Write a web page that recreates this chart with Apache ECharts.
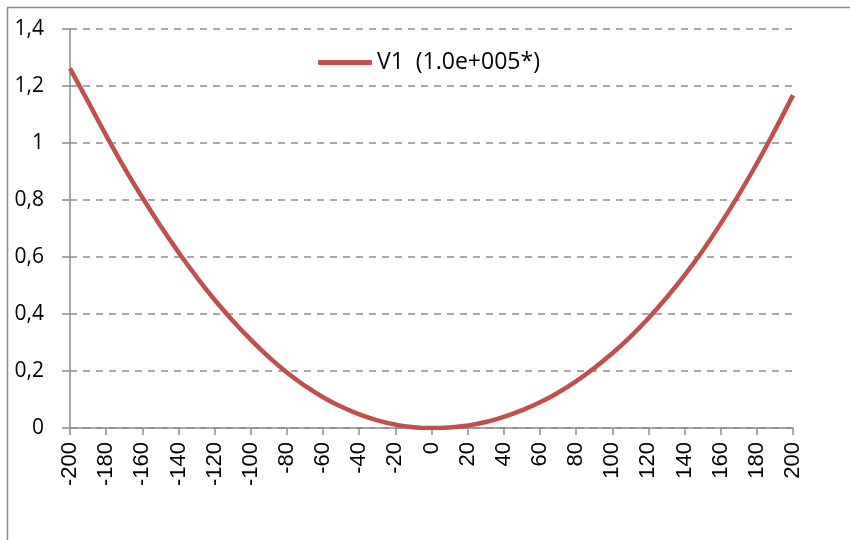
<!DOCTYPE html>
<html>
<head>
<meta charset="utf-8">
<script src="https://cdn.jsdelivr.net/npm/echarts@6/dist/echarts.min.js"></script>
<style>html,body{margin:0;padding:0;background:#fff;}#c{width:850px;height:540px;}</style>
</head>
<body>
<div id="c"></div>
<script>
const seriesName = 'V1  (1.0e+005*)';
const xValues = [-200,-190,-180,-170,-160,-150,-140,-130,-120,-110,-100,-90,-80,-70,-60,-50,-40,-30,-20,-10,0,10,20,30,40,50,60,70,80,90,100,110,120,130,140,150,160,170,180,190,200];
const yValues = [1.262,1.145,1.027,0.914,0.809,0.710,0.617,0.530,0.450,0.377,0.310,0.249,0.195,0.148,0.108,0.075,0.048,0.027,0.012,0.003,0.0,0.002,0.009,0.021,0.039,0.062,0.090,0.124,0.164,0.210,0.262,0.320,0.385,0.457,0.536,0.622,0.717,0.819,0.928,1.045,1.168];
const yTicks = {min:0, max:1.4, step:0.2};
const xTicks = {min:-200, max:200, step:20};

const chart = echarts.init(document.getElementById('c'));
const data = xValues.map((x,i)=>[x,yValues[i]]);
chart.setOption({
  animation:false,
  backgroundColor:'#fff',
  graphic:[{type:'rect',shape:{x:7.5,y:7.5,width:900,height:600},style:{fill:null,stroke:'#8a8a8a',lineWidth:1.5},silent:true}],
  grid:{left:70,right:57,top:29,bottom:112,containLabel:false},
  legend:{
    left:318, top:51, padding:0,
    icon:'roundRect', itemWidth:54, itemHeight:5,
    textStyle:{fontFamily:'Open Sans',fontSize:23,color:'#000'},
    data:[seriesName]
  },
  xAxis:{
    type:'value', min:xTicks.min, max:xTicks.max, interval:xTicks.step,
    axisLine:{onZero:false,lineStyle:{color:'#8c8c8c',width:1.5}},
    axisTick:{show:true,length:7,lineStyle:{color:'#8c8c8c',width:1.5}},
    splitLine:{show:false},
    axisLabel:{rotate:90,margin:14,fontFamily:'Liberation Sans',fontSize:22,color:'#000',hideOverlap:false}
  },
  yAxis:{
    type:'value', min:yTicks.min, max:yTicks.max, interval:yTicks.step,
    axisLine:{show:true,onZero:false,lineStyle:{color:'#8c8c8c',width:1.5}},
    axisTick:{show:true,length:8,lineStyle:{color:'#8c8c8c',width:1.5}},
    splitLine:{show:true,lineStyle:{color:'#8c8c8c',type:[7,6],width:1.5}},
    axisLabel:{margin:26,fontFamily:'Open Sans',fontSize:21,color:'#000',
      formatter:v=>String(Math.round(v*10)/10).replace('.',',')}
  },
  series:[{
    name:seriesName, type:'line', data:data, smooth:true, showSymbol:false,
    lineStyle:{color:'#C0504D',width:4.5}, itemStyle:{color:'#C0504D'}
  }]
});
</script>
</body>
</html>
